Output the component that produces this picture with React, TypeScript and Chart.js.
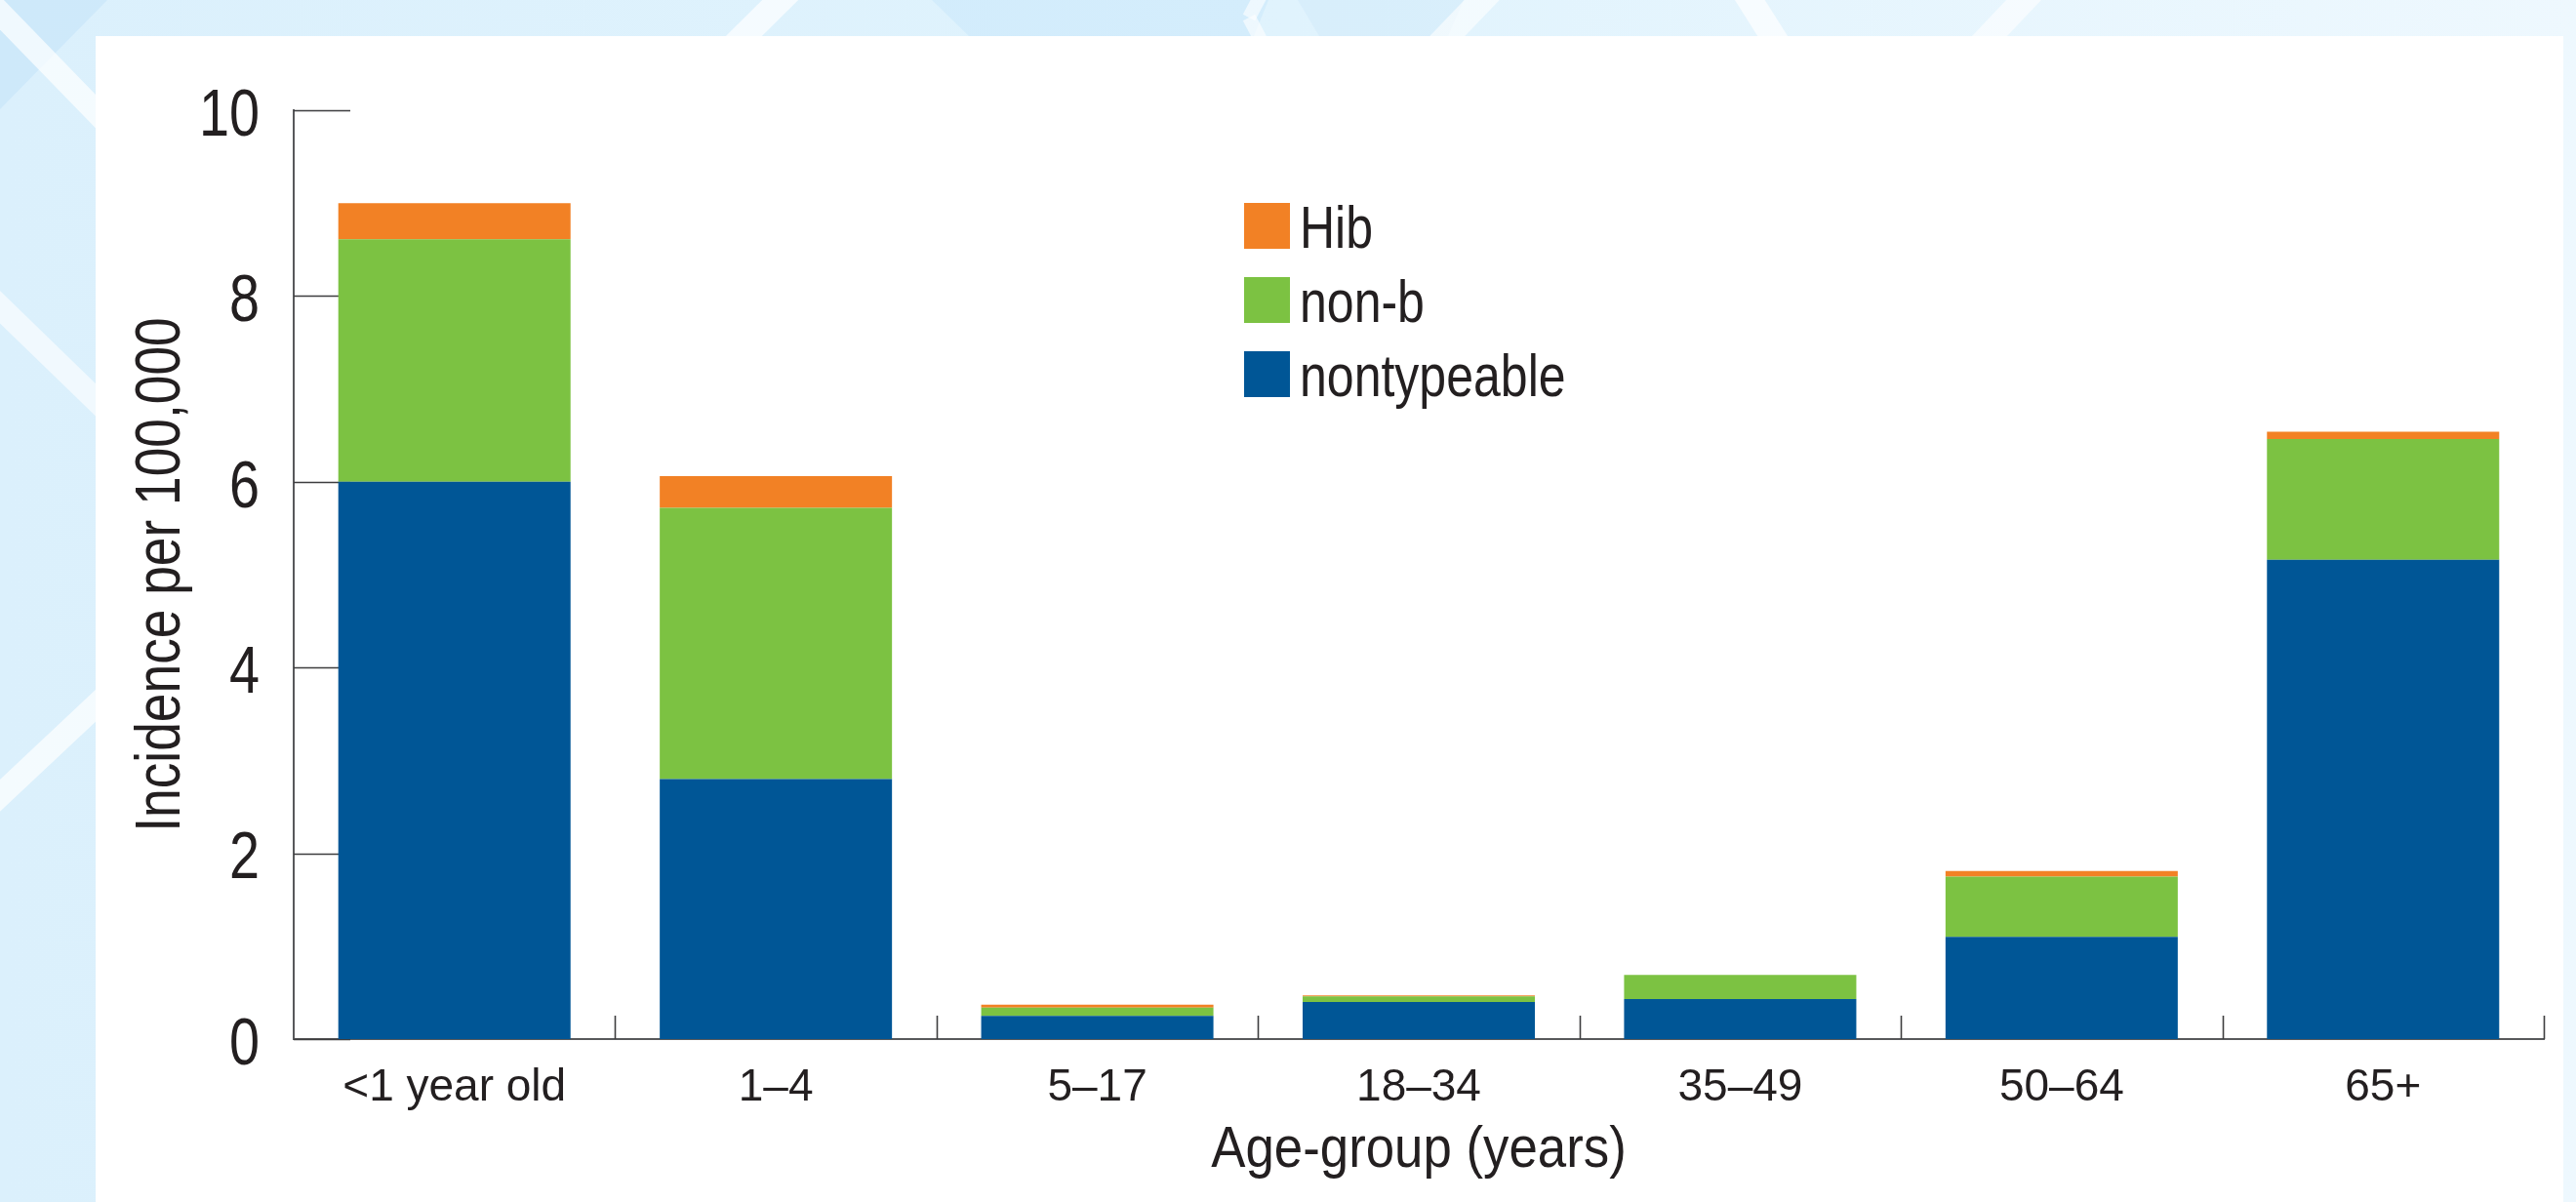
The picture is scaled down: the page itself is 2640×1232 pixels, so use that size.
import React, { useEffect, useRef } from 'react';
import { Chart, registerables } from 'chart.js';

Chart.register(...registerables);

// ---- data ----
const categories = ['<1 year old', '1–4', '5–17', '18–34', '35–49', '50–64', '65+'];
const nontypeable = [6.0, 2.8, 0.25, 0.4, 0.43, 1.1, 5.16];
const nonB = [2.61, 2.92, 0.09, 0.06, 0.26, 0.65, 1.3];
const hib = [0.39, 0.34, 0.03, 0.01, 0, 0.06, 0.08];
const yTickValues = [0, 2, 4, 6, 8, 10];
const seriesLabels = ['nontypeable', 'non-b', 'Hib'];
const seriesColors = ['#005696', '#7cc242', '#f28125'];

const W = 2640;
const H = 1232;
const TEXT = '#231f20';
const FONT = "'Liberation Sans', Arial, sans-serif";

// font sizes and the horizontal condensing applied to each (mimics a condensed face)
const SIZE_YTICK = 68;
const SIZE_YTITLE = 65;
const SIZE_LEGEND = 61;
const SIZE_XTITLE = 60;
const SIZE_XTICK = 46;
const SQUEEZE: Record<number, number> = {
  [SIZE_YTICK]: 0.82,
  [SIZE_YTITLE]: 0.82,
  [SIZE_LEGEND]: 0.82,
  [SIZE_XTITLE]: 0.88,
};

const squeezePlugin = {
  id: 'condensedText',
  beforeInit(chart: any) {
    const ctx: any = chart.ctx;
    const orig = ctx.fillText;
    ctx.fillText = function (text: string, x: number, y: number, maxWidth?: number) {
      const m = /(\d+(?:\.\d+)?)px/.exec(this.font);
      const size = m ? Math.round(parseFloat(m[1])) : 0;
      const f = SQUEEZE[size];
      if (f) {
        const w = this.measureText(text).width * f;
        const mw = maxWidth === undefined || maxWidth === null ? w : Math.min(maxWidth, w);
        return orig.call(this, text, x, y, mw);
      }
      if (maxWidth === undefined || maxWidth === null) return orig.call(this, text, x, y);
      return orig.call(this, text, x, y, maxWidth);
    };
  },
};

const backgroundPlugin = {
  id: 'pageBackground',
  beforeDraw(chart: any) {
    const ctx: CanvasRenderingContext2D = chart.ctx;
    ctx.save();
    const g = ctx.createLinearGradient(0, 0, W, 0);
    g.addColorStop(0, '#dbf0fc');
    g.addColorStop(0.5, '#e0f3fd');
    g.addColorStop(1, '#eef8fe');
    ctx.fillStyle = g;
    ctx.fillRect(0, 0, W, H);
    const poly = (pts: number[][], color: string) => {
      ctx.fillStyle = color;
      ctx.beginPath();
      ctx.moveTo(pts[0][0], pts[0][1]);
      for (let i = 1; i < pts.length; i++) ctx.lineTo(pts[i][0], pts[i][1]);
      ctx.closePath();
      ctx.fill();
    };
    poly([[0, 0], [110, 0], [0, 112]], 'rgba(190,225,248,0.45)');
    poly([[955, 0], [1300, 0], [1285, 37], [993, 37]], 'rgba(190,225,248,0.35)');
    poly([[1330, 0], [1500, 0], [1484, 37], [1352, 37]], 'rgba(190,225,248,0.25)');
    const band = (x1: number, y1: number, x2: number, y2: number, w: number, a: number) => {
      ctx.strokeStyle = `rgba(255,255,255,${a})`;
      ctx.lineWidth = w;
      ctx.beginPath();
      ctx.moveTo(x1, y1);
      ctx.lineTo(x2, y2);
      ctx.stroke();
    };
    band(-40, -28, 160, 178, 24, 0.7);
    band(-40, 276, 160, 470, 24, 0.6);
    band(-40, 853, 160, 665, 24, 0.7);
    band(724, 75, 838, -38, 26, 0.7);
    band(1770, -37, 1840, 74, 26, 0.7);
    band(1466, 55, 1536, -18, 26, 0.6);
    band(2020, 57, 2093, -20, 26, 0.6);
    band(1280, 18, 1300, -20, 14, 0.6);
    band(1280, 18, 1300, 56, 14, 0.6);
    ctx.fillStyle = '#ffffff';
    ctx.fillRect(98, 37, 2627 - 98, H - 37);
    ctx.restore();
  },
};

const innerTicksPlugin = {
  id: 'innerTicks',
  beforeDatasetsDraw(chart: any) {
    const ctx: CanvasRenderingContext2D = chart.ctx;
    const { left, bottom } = chart.chartArea;
    const ys = chart.scales.y;
    const xs = chart.scales.x;
    ctx.save();
    ctx.strokeStyle = '#3d3d3f';
    ctx.lineWidth = 1.6;
    yTickValues.forEach((v) => {
      const py = Math.round(ys.getPixelForValue(v)) + 0.5;
      ctx.beginPath();
      ctx.moveTo(left, py);
      ctx.lineTo(left + 58, py);
      ctx.stroke();
    });
    for (let i = 1; i <= categories.length; i++) {
      const px = Math.round(xs.getPixelForValue(i - 0.5)) + 0.5;
      ctx.beginPath();
      ctx.moveTo(px, bottom);
      ctx.lineTo(px, bottom - 24);
      ctx.stroke();
    }
    ctx.restore();
  },
};

const legendPlugin = {
  id: 'boxLegend',
  afterDraw(chart: any) {
    const ctx: CanvasRenderingContext2D = chart.ctx;
    const { left, top } = chart.chartArea;
    const items = chart.data.datasets
      .map((d: any) => ({ label: d.label, color: d.backgroundColor }))
      .reverse();
    const x0 = left + 974;
    const y0 = top + 95;
    const size = 47;
    const step = 76;
    ctx.save();
    ctx.font = `${SIZE_LEGEND}px ${FONT}`;
    ctx.textBaseline = 'alphabetic';
    ctx.textAlign = 'left';
    items.forEach((it: any, i: number) => {
      const y = y0 + i * step;
      ctx.fillStyle = it.color;
      ctx.fillRect(x0, y, size, size);
      ctx.fillStyle = TEXT;
      ctx.fillText(it.label, x0 + size + 10, y + size - 1);
    });
    ctx.restore();
  },
};

export default function App() {
  const canvasRef = useRef<HTMLCanvasElement | null>(null);

  useEffect(() => {
    if (!canvasRef.current) return;
    const seriesData = [nontypeable, nonB, hib];
    const chart = new Chart(canvasRef.current, {
      type: 'bar',
      data: {
        labels: categories,
        datasets: seriesData.map((d, i) => ({
          label: seriesLabels[i],
          data: d,
          backgroundColor: seriesColors[i],
          borderWidth: 0,
          barPercentage: 0.7225,
          categoryPercentage: 1,
        })),
      },
      options: {
        responsive: false,
        animation: false,
        devicePixelRatio: 1,
        layout: { padding: { left: 0, right: W - 2607, top: 113, bottom: 0 } },
        plugins: {
          legend: { display: false },
          tooltip: { enabled: false },
        },
        scales: {
          x: {
            stacked: true,
            grid: { display: false },
            border: { display: true, color: '#58595b', width: 2 },
            ticks: {
              color: TEXT,
              font: { family: FONT, size: SIZE_XTICK },
              padding: 15,
              autoSkip: false,
              maxRotation: 0,
            },
            title: {
              display: true,
              text: 'Age-group (years)',
              color: TEXT,
              font: { family: FONT, size: SIZE_XTITLE },
              padding: { top: 0, bottom: 17 },
            },
            afterFit: (s: any) => {
              s.height = H - 1065;
            },
          },
          y: {
            stacked: true,
            min: 0,
            max: 10,
            grid: { display: false },
            border: { display: true, color: '#58595b', width: 2 },
            ticks: {
              stepSize: 2,
              color: TEXT,
              font: { family: FONT, size: SIZE_YTICK },
              padding: 27,
              labelOffset: 7,
            },
            title: {
              display: true,
              text: 'Incidence per 100,000',
              color: TEXT,
              font: { family: FONT, size: SIZE_YTITLE },
              padding: { top: 127, bottom: 0 },
            },
            afterFit: (s: any) => {
              s.width = 301;
            },
          },
        },
      },
      plugins: [squeezePlugin, backgroundPlugin, innerTicksPlugin, legendPlugin],
    });
    return () => chart.destroy();
  }, []);

  return (
    <div style={{ position: 'absolute', left: 0, top: 0, width: W, height: H, overflow: 'hidden' }}>
      <canvas ref={canvasRef} width={W} height={H} style={{ display: 'block', width: W, height: H }} />
    </div>
  );
}
